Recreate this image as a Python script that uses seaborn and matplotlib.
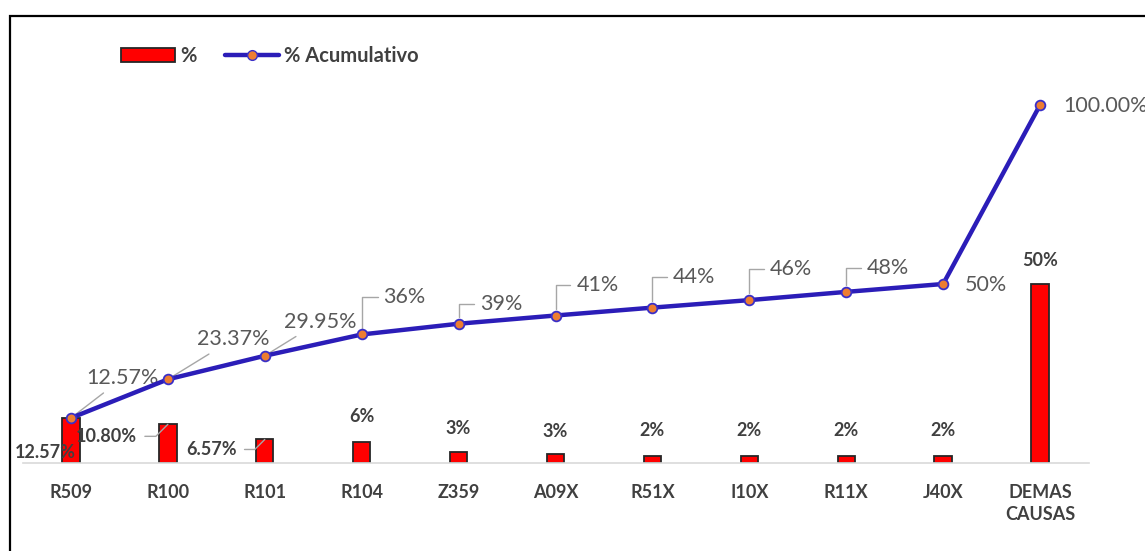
import seaborn as sns
import matplotlib.pyplot as plt
import numpy as np
import pandas as pd
from matplotlib.patches import Rectangle, Patch
from matplotlib.lines import Line2D

categorias = ["R509", "R100", "R101", "R104", "Z359", "A09X", "R51X", "I10X", "R11X", "J40X", "DEMAS\nCAUSAS"]
porcentaje = [12.57, 10.80, 6.57, 5.9, 3.1, 2.5, 2.0, 2.0, 2.0, 2.0, 50.0]
acumulado = [12.57, 23.37, 29.95, 35.9, 38.9, 41.2, 43.4, 45.5, 47.8, 50.0, 100.0]
etiq_barra = ["12.57%", "10.80%", "6.57%", "6%", "3%", "3%", "2%", "2%", "2%", "2%", "50%"]
etiq_acum = ["12.57%", "23.37%", "29.95%", "36%", "39%", "41%", "44%", "46%", "48%", "50%", "100.00%"]

sns.set_theme(style="white")
plt.rcParams["font.family"] = ["Lato", "DejaVu Sans"]

W, H = 1145, 551
fig = plt.figure(figsize=(W / 100, H / 100), dpi=100)
ax = fig.add_axes([22.5 / W, (H - 463) / H, 1066 / W, 358 / H])

df = pd.DataFrame({"causa": categorias, "pct": porcentaje})
sns.barplot(data=df, x="causa", y="pct", color="#ff0000", width=0.18,
            edgecolor="#262626", linewidth=1.3, saturation=1, ax=ax)
sns.lineplot(x=np.arange(len(categorias)), y=acumulado, color="#2b1db8", lw=3.2,
             marker="o", markersize=7, markerfacecolor="#ed7d31",
             markeredgecolor="#3a2fc8", markeredgewidth=1.3, sort=False, ax=ax,
             clip_on=False, zorder=5)

ax.set_ylim(0, 100)
ax.set_xlim(-0.5, len(categorias) - 0.5)
ax.set_xlabel("")
ax.set_ylabel("")
ax.set_yticks([])
for s in ["top", "right", "left"]:
    ax.spines[s].set_visible(False)
ax.spines["bottom"].set_color("#d9d9d9")
ax.spines["bottom"].set_linewidth(1.2)
ax.tick_params(axis="x", length=0, pad=15)
for t in ax.get_xticklabels():
    t.set_fontsize(13)
    t.set_fontweight("bold")
    t.set_color("#404040")
    t.set_linespacing(1.35)

gris = "#a6a6a6"
# cumulative labels (offsets in pixels from the point)
off_acum = [(52, 40), (65, 40), (55, 34), (43, 37), (43, 20), (42, 31),
            (42, 31), (42, 31), (42, 24), (43, -1), (66, -1)]
for i, (txt, (dx, dy)) in enumerate(zip(etiq_acum, off_acum)):
    if i < 3:
        arrow = dict(arrowstyle="-", color=gris, lw=1, shrinkA=2, shrinkB=4)
    elif 3 <= i <= 8:
        arrow = dict(arrowstyle="-", color=gris, lw=1, shrinkA=2, shrinkB=5,
                     connectionstyle="angle,angleA=180,angleB=90,rad=0")
    else:
        arrow = None
    ax.annotate(txt, xy=(i, acumulado[i]), xytext=(dx, dy), textcoords="offset pixels",
                ha="center", va="center", fontsize=15.5, color="#595959",
                arrowprops=arrow, annotation_clip=False)

# bar labels
off_barra = [(-26, -35), (-61, -12), (-53, -10), (0, 25), (0, 23), (0, 23),
             (0, 25), (0, 25), (0, 25), (0, 25), (0, 23)]
for i, (txt, (dx, dy)) in enumerate(zip(etiq_barra, off_barra)):
    arrow = None
    if i in (1, 2):
        arrow = dict(arrowstyle="-", color=gris, lw=1, shrinkA=3, shrinkB=0,
                     connectionstyle="angle,angleA=0,angleB=45,rad=0")
    ax.annotate(txt, xy=(i, porcentaje[i]), xytext=(dx, dy), textcoords="offset pixels",
                ha="center", va="center", fontsize=13, fontweight="bold", color="#404040",
                arrowprops=arrow, annotation_clip=False, zorder=6)

handles = [Patch(facecolor="#ff0000", edgecolor="#262626", linewidth=1.3),
           Line2D([], [], color="#2b1db8", lw=3.2, marker="o", markersize=7,
                  markerfacecolor="#ed7d31", markeredgecolor="#3a2fc8")]
leg = fig.legend(handles, ["%", "% Acumulativo"], loc="center left",
                 bbox_to_anchor=(121 / W, 1 - 56 / H), ncol=2, frameon=False,
                 borderpad=0, borderaxespad=0, handlelength=2.7, handletextpad=0.25,
                 columnspacing=1.4, prop={"size": 14.5, "weight": "bold"})
for t in leg.get_texts():
    t.set_color("#404040")

# outer frame of the chart
fig.patches.append(Rectangle((10.5 / W, -0.1), 1.2, 1 - 16 / H + 0.1, transform=fig.transFigure,
                             fill=False, edgecolor="black", lw=1.6))

plt.savefig("out.png", dpi=100)
plt.close()
